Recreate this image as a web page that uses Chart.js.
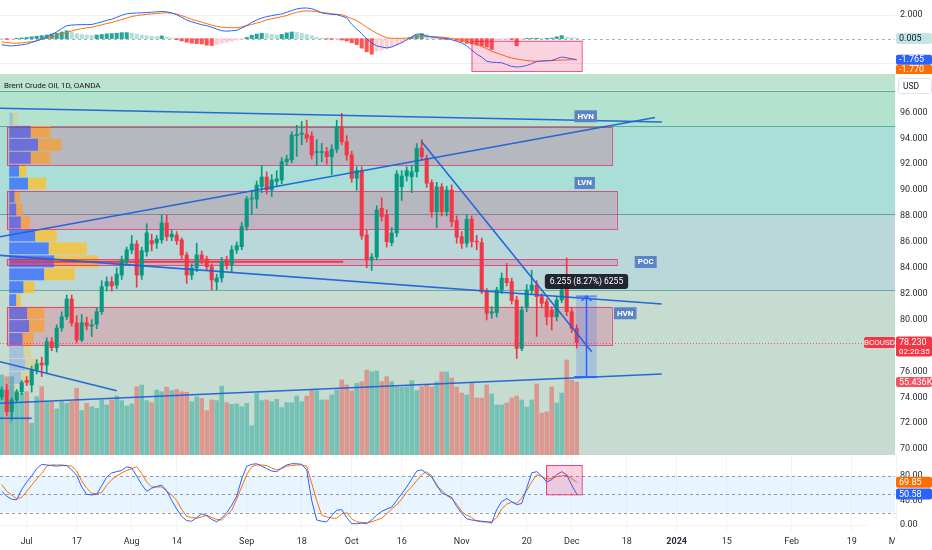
<!DOCTYPE html>
<html>
<head>
<meta charset="utf-8">
<script src="https://cdn.jsdelivr.net/npm/chart.js@4.4.1/dist/chart.umd.min.js"></script>
<style>
  html, body { margin: 0; padding: 0; background: #fff; }
  #wrap { position: relative; width: 932px; height: 550px; overflow: hidden; }
  .pane { position: absolute; left: 0; width: 932px; }
</style>
</head>
<body>
<div id="wrap">
  <div class="pane" style="top:0;height:74px"><canvas id="macd"></canvas></div>
  <div class="pane" style="top:74px;height:381px"><canvas id="price"></canvas></div>
  <div class="pane" style="top:455px;height:95px"><canvas id="stoch"></canvas></div>
</div>
<script>
// daily bars, index 0 = 26 Jun 2023 ... 115 = 4 Dec 2023
const opens = [
  74.02,74.56,72.89,73.79,74.43,75.3,74.95,76.11,76.65,76.49,
  78.29,77.83,79.35,80.22,81.59,79.74,78.42,79.76,79.5,79.64,
  80.61,82.6,82.93,82.67,83.44,84.47,85.38,85.84,83.44,85.24,
  86.1,85.92,86.15,87.46,86.38,86.53,86.15,84.99,83.44,83.99,
  84.99,84.68,84.08,82.91,83.21,84.6,84.22,85.38,85.63,87.17,
  89.31,89.31,90.26,91.01,90.01,90.67,90.78,92.19,92.33,94.2,
  94.3,94.31,94.18,92.9,92.9,92.97,92.58,93.15,94.9,93.74,
  92.71,90.91,91.5,86.53,84.6,84.83,88.59,88.08,85.94,86.69,
  90.26,91.09,91.04,91.42,93.23,92.46,90.57,88.33,90.25,88.33,
  90.01,87.64,86.4,85.89,87.75,86.02,85.94,82.15,80.49,80.53,
  82.29,83.19,82.93,81.51,77.78,81.0,82.29,82.67,81.77,81.38,
  80.74,80.22,81.51,82.54,80.61,79.33
];
const highs = [
  74.8,75.0,74.0,74.6,75.3,75.6,76.4,76.9,77.1,78.6,
  78.6,79.6,80.6,81.9,81.9,80.3,80.4,80.2,80.0,80.9,
  83.0,83.3,83.3,84.0,84.9,85.6,86.5,86.1,85.6,87.4,
  86.6,86.5,88.1,88.1,86.9,86.8,86.3,85.2,84.3,85.9,
  85.3,84.9,84.3,83.5,84.8,84.9,85.7,86.0,87.5,89.5,
  90.0,90.7,91.9,91.4,91.2,91.5,92.5,92.7,94.5,95.0,
  95.3,95.4,94.5,93.9,93.6,93.3,93.5,95.4,95.93,94.2,
  93.0,91.8,91.8,86.9,85.1,88.8,89.4,88.5,87.1,91.5,
  91.5,91.8,91.9,93.6,93.9,92.7,90.8,90.6,90.5,90.3,
  90.4,88.0,86.8,88.1,88.0,86.5,86.3,82.4,81.0,82.5,
  83.6,84.35,83.2,81.8,81.0,82.7,83.8,83.0,82.0,81.6,
  81.0,81.8,83.4,84.76,80.9,79.6
];
const lows = [
  73.8,72.6,72.3,73.6,74.2,74.9,74.4,75.8,75.6,75.9,
  77.6,77.5,79.1,80.0,79.5,78.2,78.3,79.2,78.7,79.3,
  80.4,82.2,82.2,82.4,83.1,84.2,85.1,82.5,83.1,84.9,
  85.3,85.5,85.9,86.1,86.1,85.8,84.7,82.8,83.1,83.7,
  84.3,83.8,82.3,82.3,82.9,83.9,83.7,85.1,85.4,86.9,
  88.1,88.6,89.8,89.7,89.5,90.3,90.5,91.9,92.1,92.6,
  93.5,93.7,92.4,91.9,92.2,92.0,91.2,92.9,93.5,92.3,
  90.6,90.0,86.2,84.0,83.8,84.6,87.6,85.6,85.7,86.4,
  89.2,90.7,89.8,91.0,92.3,90.2,87.9,87.1,88.0,88.0,
  87.2,85.9,85.5,85.6,85.6,85.4,82.0,79.97,80.1,80.2,
  82.0,82.6,81.2,77.0,77.6,80.6,82.0,78.7,80.9,79.6,
  79.2,79.9,81.3,80.3,79.0,77.8
];
const closes = [
  74.56,72.89,73.79,74.43,75.13,75.15,76.11,76.57,76.5,78.29,
  77.83,79.35,80.22,81.59,79.74,78.42,79.76,79.51,79.6,80.61,
  82.54,82.93,82.6,83.52,84.6,85.38,85.84,83.44,85.32,86.69,
  85.84,86.23,87.46,86.4,86.61,86.09,84.99,83.44,83.99,84.99,
  84.6,84.08,83.06,83.21,84.47,84.22,85.38,85.71,87.17,89.31,
  89.39,90.39,91.01,90.01,90.78,90.86,92.19,92.4,94.25,94.3,
  94.4,94.0,92.71,92.95,92.98,92.58,93.15,94.9,93.74,92.71,
  90.91,91.5,86.46,84.6,84.83,88.46,87.95,86.02,86.69,91.24,
  91.09,91.5,91.42,93.23,92.58,90.53,88.33,90.25,88.33,90.01,
  87.56,86.36,85.89,87.75,86.02,85.98,82.15,80.49,80.61,82.29,
  83.19,82.85,81.46,77.78,80.74,82.29,82.67,81.77,81.26,80.22,
  80.22,81.51,82.29,80.61,79.33,78.23
];
// volume in thousands
const volumes = [
  60.8,59.5,59.5,46.9,46.9,48.1,24.1,44.3,51.9,40.5,
  40.5,35.0,40.5,39.3,40.5,50.7,33.7,39.3,36.7,35.5,
  41.8,38.0,41.8,44.8,41.3,37.2,38.8,51.9,53.2,41.3,
  39.8,49.4,48.1,51.5,48.9,49.9,48.1,47.7,40.5,44.3,
  43.1,33.7,41.8,41.3,52.4,39.8,38.5,38.8,36.7,39.3,
  22.3,46.9,41.3,41.8,40.5,42.3,36.0,39.8,39.8,44.8,
  40.5,44.8,49.4,48.9,41.8,41.8,45.6,49.4,57.0,53.2,
  48.6,54.5,55.7,64.6,63.3,63.8,55.7,59.5,55.7,51.5,
  51.5,51.9,56.5,48.9,51.9,53.2,51.7,55.5,63.1,63.1,
  58.5,51.7,47.1,45.6,54.7,43.3,43.3,53.2,46.4,38.0,
  38.0,39.5,43.3,44.8,41.8,36.5,41.8,54.0,31.9,32.7,
  51.7,39.5,47.1,72.2,57.0,55.4
];
const macdLine = [
  -0.50,-0.58,-0.61,-0.58,-0.52,-0.46,-0.32,-0.18,-0.05,0.15,
  0.36,0.55,0.85,1.08,1.13,1.16,1.17,1.17,1.18,1.28,
  1.40,1.52,1.62,1.78,1.95,2.08,2.12,2.14,2.16,2.18,
  2.21,2.24,2.27,2.24,2.15,2.00,1.78,1.55,1.40,1.28,
  1.16,1.08,0.95,0.80,0.66,0.62,0.66,0.70,0.88,1.10,
  1.35,1.55,1.72,1.84,1.92,2.00,2.06,2.20,2.35,2.48,
  2.55,2.56,2.50,2.35,2.15,2.08,2.03,2.00,1.88,1.75,
  1.20,0.80,0.42,-0.05,-0.35,-0.61,-0.70,-0.78,-0.70,-0.52,
  -0.34,-0.10,0.15,0.38,0.35,0.22,0.15,0.08,0.05,0.02,
  -0.10,-0.22,-0.38,-0.60,-0.95,-1.30,-1.55,-1.90,-1.97,-2.00,
  -2.02,-2.18,-2.32,-2.38,-2.34,-2.25,-2.10,-1.92,-1.88,-1.85,
  -1.83,-1.68,-1.54,-1.60,-1.68,-1.765
];
const signalLine = [
  -0.27,-0.33,-0.37,-0.39,-0.36,-0.30,-0.26,-0.20,-0.05,0.05,
  0.10,0.26,0.40,0.53,0.65,0.75,0.83,0.90,0.95,1.05,
  1.15,1.26,1.35,1.48,1.60,1.72,1.85,1.92,1.98,2.03,
  2.06,2.10,2.13,2.16,2.12,2.05,1.92,1.78,1.60,1.50,
  1.38,1.25,1.13,1.03,0.96,0.92,0.91,0.91,0.98,1.08,
  1.18,1.30,1.42,1.57,1.65,1.75,1.84,1.93,2.08,2.20,
  2.28,2.33,2.30,2.25,2.19,2.14,2.09,2.04,2.00,1.85,
  1.67,1.51,1.25,0.95,0.69,0.45,0.25,0.07,0.03,0.02,
  0.02,0.05,0.12,0.20,0.19,0.17,0.16,0.15,0.12,0.08,
  0.02,-0.07,-0.15,-0.25,-0.40,-0.45,-0.65,-0.85,-1.05,-1.21,
  -1.35,-1.50,-1.62,-1.70,-1.78,-1.84,-1.88,-1.89,-1.88,-1.86,
  -1.84,-1.82,-1.80,-1.78,-1.76,-1.77
];
const macdHist = [
  -0.05,-0.06,-0.04,0.03,0.06,0.10,0.15,0.20,0.25,0.30,
  0.38,0.45,0.55,0.65,0.55,0.42,0.35,0.30,0.28,0.30,
  0.35,0.40,0.42,0.45,0.50,0.50,0.45,0.38,0.30,0.24,
  0.20,0.18,0.22,0.12,0.05,-0.08,-0.20,-0.30,-0.38,-0.42,
  -0.45,-0.55,-0.58,-0.50,-0.38,-0.30,-0.22,-0.12,-0.06,0.10,
  0.28,0.38,0.45,0.42,0.35,0.30,0.35,0.48,0.55,0.52,
  0.45,0.35,0.25,0.12,0.05,-0.03,-0.05,-0.04,-0.12,-0.20,
  -0.35,-0.50,-0.80,-1.10,-1.30,-1.05,-0.95,-0.85,-0.70,-0.55,
  -0.35,-0.15,0.10,0.30,0.42,0.35,0.18,0.10,-0.05,-0.08,
  -0.05,-0.15,-0.28,-0.40,-0.45,-0.55,-0.60,-0.70,-0.90,-0.10,
  -0.05,-0.05,-0.08,-0.60,-0.05,0.02,0.03,0.03,0.02,0.03,
  0.04,0.15,0.25,0.12,0.08,0.05
];
const stochK = [
  55,47,42,41,58,70,80,92,99,98,
  97,96,97,97,90,81,62,50,49,50,
  64,78,85,87,89,95,93,80,66,55,
  60,63,65,56,40,26,14,7,6,12,
  18,15,9,5,11,20,32,47,75,96,
  99,100,96,92,88,87,93,98,100,100,
  99,90,40,8,6,5,15,24,25,12,
  2,2,3,2,8,16,22,26,29,40,
  51,62,75,88,90,84,78,66,52,49,
  45,30,19,10,8,7,6,5,3,25,
  38,43,38,33,35,60,85,87,80,70,
  74,82,87,82,65,50.58
];
const stochD = [
  66,55,49,43,45,55,65,75,84,96,
  98,98,98,97,96,88,72,60,52,51,
  53,65,74,80,85,89,92,95,84,70,
  62,62,62,55,49,40,25,14,12,11,
  13,16,12,9,8,16,24,42,62,82,
  95,98,98,97,93,90,92,96,97,98,
  98,96,68,40,16,13,11,11,18,20,
  10,5,4,3.5,5,8,11,18,26,33,
  42,54,62,72,82,87,80,63,57,48,
  43,34,22,16,12,6,5,5,5,12,
  26,34,37,35,44,56,70,82,79,75,
  76,79,80,81,76,69.85
];
const dateTickPos = [5, 15, 26, 35, 49, 60, 70, 80, 92, 105, 114, 125, 135, 145, 158, 170, 179];
const dateTickLabels = ['Jul', '17', 'Aug', '14', 'Sep', '18', 'Oct', '16', 'Nov', '20', 'Dec', '18', '2024', '15', 'Feb', '19', 'Mar'];
const priceTicks = [70, 72, 74, 76, 78, 80, 82, 84, 86, 88, 90, 92, 94, 96];
const macdTicks = [2];
const stochTicks = [0, 40, 80];

// visible range volume profile, rows of 1.0 price
const profileLows = [95, 94, 93, 92, 91, 90, 89, 88, 87, 86, 85, 84, 83, 82, 81, 80, 79, 78, 77, 76, 75, 74, 73, 72];
const profileBuy = [4, 24, 32, 24, 11, 21, 6, 8, 13, 29, 44, 50, 39, 16, 8, 20, 22, 15, 16, 18, 13, 5, 4, 4];
const profileSell = [5, 22, 26, 22, 8, 20, 6, 7, 10, 24, 42, 49, 34, 12, 5, 19, 17, 12, 8, 15, 10, 3, 2, 0];

// drawings, in bar index / price
const zoneEdges = [97.69, 94.93, 88.15, 82.25];
const zoneRects = [
  [1.0, 122.0, 91.94, 94.90],
  [1.0, 123.0, 87.00, 89.93],
  [1.0, 123.0, 84.16, 84.66],
  [1.0, 122.0, 78.04, 81.00]
];
const pocLine = [1.66, 68.3, 84.47];
const trendLines = [
  [-0.34, 96.32, 132.06, 95.26],
  [-0.34, 86.40, 130.66, 95.60],
  [-0.34, 84.96, 132.0, 81.21],
  [84.0, 93.74, 118.0, 77.52],
  [-0.34, 76.75, 23.0, 74.51],
  [-0.34, 73.54, 132.0, 75.80],
  [-0.34, 72.38, 6.0, 72.38]
];
const levelLabels = [['HVN', 116.8, 95.70], ['LVN', 116.6, 90.55], ['POC', 128.8, 84.45], ['HVN', 124.7, 80.49]];
const measureSpan = [114.9, 119.0, 116.9];
const measureRange = [75.56, 81.815];
const measureText = '6.255 (8.27%) 6255';
const macdBox = [93.96, 116.0, -2.71, -0.18];
const stochBox = [108.86, 116.0, 50.0, 97.9];

const LAST_PRICE = 78.23;
const LAST_VOLUME = 55.436;
const TITLE = 'Brent Crude Oil, 1D, OANDA';

const FONT = 'Roboto, "Liberation Sans", sans-serif';
const AXIS_W = 37;
const X_MIN = -0.34, X_MAX = 178.66;
const UP = '#089981', DOWN = '#f23645';
const PROFILE_ANCHOR = 1.5, PROFILE_STEP = 1.0, VA_FROM = 1, VA_TO = 17;
const ZONE_COLORS = ['#bee3d0', '#b3e2ce', '#a9dfd7', '#bad7da', '#c6dcd0'];

const idx = opens.map((_, i) => i);
const pts = (arr) => arr.map((v, i) => ({ x: i, y: v }));
const isUp = idx.map((i) => closes[i] >= opens[i]);

function xHidden() {
  return { type: 'linear', min: X_MIN, max: X_MAX, display: false, offset: false };
}

function rightAxis(min, max, ticks, digits) {
  return {
    type: 'linear', position: 'right', min: min, max: max, beginAtZero: false,
    grid: { display: false, drawTicks: false }, border: { display: false },
    ticks: {
      color: '#2a2e39', padding: 5, font: { family: FONT, size: 9 },
      callback: (v) => Number(v).toFixed(digits)
    },
    afterBuildTicks: (s) => { s.ticks = ticks.map((v) => ({ value: v })); },
    afterFit: (s) => { s.width = AXIS_W; s.paddingTop = 0; s.paddingBottom = 0; }
  };
}

function baseOptions() {
  return {
    responsive: true, maintainAspectRatio: false, animation: false, events: [],
    layout: { padding: 0 },
    plugins: { legend: { display: false }, tooltip: { enabled: false } }
  };
}

function box(ctx, x, y, w, h, r) {
  ctx.beginPath();
  if (ctx.roundRect) ctx.roundRect(x, y, w, h, r); else ctx.rect(x, y, w, h);
}

function tag(ctx, yc, text, bg, fg, h) {
  h = h || 11;
  ctx.fillStyle = bg;
  box(ctx, 896, yc - h / 2, 36, h, 2);
  ctx.fill();
  ctx.fillStyle = fg;
  ctx.font = `9px ${FONT}`;
  ctx.textAlign = 'left';
  ctx.textBaseline = 'middle';
  ctx.fillText(text, 899, yc + 0.5);
}

function clipArea(ctx, a) {
  ctx.beginPath();
  ctx.rect(a.left, a.top, a.right - a.left, a.bottom - a.top);
  ctx.clip();
}

function hLine(ctx, x0, x1, y) {
  ctx.beginPath();
  ctx.moveTo(x0, y);
  ctx.lineTo(x1, y);
  ctx.stroke();
}

// ---------- MACD pane ----------
const macdPane = {
  id: 'macdPane',
  beforeDatasetsDraw(chart) {
    const { ctx, chartArea: a, scales: { y } } = chart;
    ctx.save();
    ctx.strokeStyle = '#eef0f4';
    ctx.lineWidth = 1;
    [2, -2].forEach((v) => hLine(ctx, a.left, a.right, Math.round(y.getPixelForValue(v)) + 0.5));
    ctx.strokeStyle = 'rgba(120,123,134,0.6)';
    ctx.setLineDash([3, 3]);
    hLine(ctx, a.left, a.right, Math.round(y.getPixelForValue(0)) + 0.5);
    ctx.restore();
  },
  afterDatasetsDraw(chart) {
    const { ctx, chartArea: a, scales: { x, y } } = chart;
    ctx.save();
    clipArea(ctx, a);
    const [i0, i1, lo, hi] = macdBox;
    const bx = x.getPixelForValue(i0), bw = x.getPixelForValue(i1) - bx;
    const by = y.getPixelForValue(hi), bh = y.getPixelForValue(lo) - by;
    ctx.fillStyle = 'rgba(233,30,99,0.2)';
    ctx.fillRect(bx, by, bw, bh);
    ctx.strokeStyle = 'rgba(233,30,99,0.75)';
    ctx.strokeRect(bx + 0.5, by + 0.5, bw, bh);
    ctx.restore();
  },
  afterDraw(chart) {
    const { ctx, scales: { y } } = chart;
    ctx.save();
    tag(ctx, y.getPixelForValue(0.005), '0.005', 'rgba(38,166,154,0.28)', '#131722');
    const yb = y.getPixelForValue(macdLine[macdLine.length - 1]);
    tag(ctx, yb, macdLine[macdLine.length - 1].toFixed(3), '#2962ff', '#fff', 10);
    tag(ctx, yb + 10, signalLine[signalLine.length - 1].toFixed(3), '#ff6d00', '#fff', 10);
    ctx.restore();
  }
};

const histColors = macdHist.map((v, i) => {
  const prev = i > 0 ? macdHist[i - 1] : v;
  if (v >= 0) return v >= prev ? '#26a69a' : '#b2dfdb';
  return v < prev ? '#ff5252' : '#ffcdd2';
});

new Chart(document.getElementById('macd'), {
  type: 'bar',
  data: {
    datasets: [
      { type: 'line', data: pts(macdLine), borderColor: '#2962ff', borderWidth: 1, pointRadius: 0, tension: 0 },
      { type: 'line', data: pts(signalLine), borderColor: '#ff6d00', borderWidth: 1, pointRadius: 0, tension: 0 },
      { data: pts(macdHist), backgroundColor: histColors, barThickness: 3.4, grouped: false }
    ]
  },
  options: Object.assign(baseOptions(), {
    scales: { x: xHidden(), y: rightAxis(-2.962, 3.23, macdTicks, 3) }
  }),
  plugins: [macdPane]
});

// ---------- price pane ----------
const pricePane = {
  id: 'pricePane',
  beforeDatasetsDraw(chart) {
    const { ctx, chartArea: a, scales: { x, y, xp } } = chart;
    ctx.save();
    clipArea(ctx, a);
    const edges = [y.max].concat(zoneEdges, [y.min]);
    for (let k = 0; k < edges.length - 1; k++) {
      const t = y.getPixelForValue(edges[k]), b = y.getPixelForValue(edges[k + 1]);
      ctx.fillStyle = ZONE_COLORS[k];
      ctx.fillRect(a.left, t, a.right - a.left, b - t);
    }
    ctx.strokeStyle = 'rgba(0,120,90,0.5)';
    ctx.lineWidth = 1;
    zoneEdges.forEach((p) => hLine(ctx, a.left, a.right, Math.round(y.getPixelForValue(p)) + 0.5));

    // volume profile
    const x0 = x.getPixelForValue(PROFILE_ANCHOR);
    const unit = xp.getPixelForValue(1) - xp.getPixelForValue(0);
    profileLows.forEach((lo, k) => {
      const top = y.getPixelForValue(lo + PROFILE_STEP) + 0.5;
      const bot = y.getPixelForValue(lo) - 0.5;
      const inVA = k >= VA_FROM && k <= VA_TO;
      const wb = profileBuy[k] * unit, ws = profileSell[k] * unit;
      ctx.fillStyle = inVA ? 'rgba(41,98,255,0.72)' : 'rgba(41,98,255,0.22)';
      ctx.fillRect(x0, top, wb, bot - top);
      ctx.fillStyle = inVA ? 'rgba(251,192,45,0.78)' : 'rgba(251,192,45,0.3)';
      ctx.fillRect(x0 + wb, top, ws, bot - top);
    });

    // zone rectangles
    zoneRects.forEach(([i0, i1, lo, hi]) => {
      const bx = x.getPixelForValue(i0), bw = x.getPixelForValue(i1) - bx;
      const by = y.getPixelForValue(hi), bh = y.getPixelForValue(lo) - by;
      ctx.fillStyle = 'rgba(233,30,99,0.2)';
      ctx.fillRect(bx, by, bw, bh);
      ctx.strokeStyle = 'rgba(233,30,99,0.7)';
      ctx.lineWidth = 1;
      ctx.strokeRect(Math.round(bx) + 0.5, Math.round(by) + 0.5, Math.round(bw), Math.round(bh));
    });

    // POC line of the profile
    ctx.strokeStyle = '#f23645';
    ctx.lineWidth = 2;
    hLine(ctx, x.getPixelForValue(pocLine[0]), x.getPixelForValue(pocLine[1]), y.getPixelForValue(pocLine[2]));
    ctx.restore();
  },
  afterDatasetsDraw(chart) {
    const { ctx, chartArea: a, scales: { x, y } } = chart;
    ctx.save();
    clipArea(ctx, a);

    // last price line
    ctx.strokeStyle = 'rgba(242,54,69,0.75)';
    ctx.lineWidth = 1;
    ctx.setLineDash([1, 2]);
    hLine(ctx, a.left, a.right, Math.round(y.getPixelForValue(LAST_PRICE)) + 0.5);
    ctx.setLineDash([]);

    // price range measurement
    const xl = x.getPixelForValue(measureSpan[0]), xr = x.getPixelForValue(measureSpan[1]);
    const xm = Math.round(x.getPixelForValue(measureSpan[2])) + 0.5;
    const yt = y.getPixelForValue(measureRange[1]), yb = y.getPixelForValue(measureRange[0]);
    ctx.fillStyle = 'rgba(41,98,255,0.2)';
    ctx.fillRect(xl, yt, xr - xl, yb - yt);
    ctx.strokeStyle = '#2962ff';
    ctx.lineWidth = 1.5;
    ctx.beginPath();
    ctx.moveTo(xm, yb); ctx.lineTo(xm, yt);
    ctx.moveTo(xm - 5, yt + 5); ctx.lineTo(xm, yt); ctx.lineTo(xm + 5, yt + 5);
    ctx.stroke();
    ctx.lineWidth = 2;
    hLine(ctx, xl - 2, xr, yb);
    ctx.lineWidth = 1;
    hLine(ctx, xl, xr, yt);

    ctx.font = `8.5px ${FONT}`;
    const tw = ctx.measureText(measureText).width + 10;
    ctx.fillStyle = 'rgba(19,23,34,0.92)';
    box(ctx, xm - tw / 2, yt - 22, tw, 15, 3);
    ctx.fill();
    ctx.fillStyle = '#fff';
    ctx.textAlign = 'center';
    ctx.textBaseline = 'middle';
    ctx.fillText(measureText, xm, yt - 14.5);

    // level labels
    ctx.font = `bold 8px ${FONT}`;
    levelLabels.forEach(([t, i, p]) => {
      const cx = x.getPixelForValue(i), cy = y.getPixelForValue(p);
      const w = ctx.measureText(t).width + 6, h = 12;
      ctx.fillStyle = '#5b84c4';
      ctx.fillRect(cx - w / 2, cy - h / 2, w, h);
      ctx.fillStyle = '#fff';
      ctx.fillText(t, cx, cy + 0.5);
    });

    // symbol title
    ctx.font = `8px ${FONT}`;
    ctx.fillStyle = '#131722';
    ctx.textAlign = 'left';
    ctx.fillText(TITLE, a.left + 4, a.top + 12);
    ctx.restore();
  },
  afterDraw(chart) {
    const { ctx, scales: { y, yv } } = chart;
    ctx.save();
    // currency box
    ctx.fillStyle = '#fff';
    ctx.strokeStyle = '#e0e3eb';
    box(ctx, 898.5, 4.5, 33, 15, 2);
    ctx.fill(); ctx.stroke();
    ctx.fillStyle = '#131722';
    ctx.font = `8.5px ${FONT}`;
    ctx.textAlign = 'left';
    ctx.textBaseline = 'middle';
    ctx.fillText('USD', 903, 12.5);

    // symbol + last price
    const yc = y.getPixelForValue(LAST_PRICE);
    ctx.fillStyle = '#f23645';
    box(ctx, 864, yc - 5.5, 31, 11, 2);
    ctx.fill();
    ctx.fillStyle = '#fff';
    ctx.font = `8px ${FONT}`;
    ctx.textAlign = 'center';
    ctx.fillText('BCOUSD', 879.5, yc + 0.5);
    ctx.fillStyle = '#f23645';
    box(ctx, 896, yc - 6, 36, 20, 2);
    ctx.fill();
    ctx.fillStyle = '#fff';
    ctx.font = `9px ${FONT}`;
    ctx.textAlign = 'left';
    ctx.fillText(LAST_PRICE.toFixed(3), 899, yc + 0.5);
    ctx.font = `8px ${FONT}`;
    ctx.fillText('02:20:35', 899, yc + 9);

    // last volume
    tag(ctx, yv.getPixelForValue(LAST_VOLUME), LAST_VOLUME.toFixed(3) + 'K', '#f7525f', '#fff', 10);
    ctx.restore();
  }
};

const lineSets = trendLines.map(([xa, pa, xb, pb]) => ({
  type: 'line', data: [{ x: xa, y: pa }, { x: xb, y: pb }],
  borderColor: 'rgba(28,98,214,0.95)', borderWidth: 1.6, pointRadius: 0, tension: 0,
  xAxisID: 'x', yAxisID: 'y'
}));

new Chart(document.getElementById('price'), {
  type: 'bar',
  data: {
    datasets: lineSets.concat([
      {
        data: idx.map((i) => ({ x: i, y: [opens[i], closes[i]] })),
        backgroundColor: idx.map((i) => (isUp[i] ? UP : DOWN)),
        barThickness: 3.4, minBarLength: 1, grouped: false, xAxisID: 'x', yAxisID: 'y'
      },
      {
        data: idx.map((i) => ({ x: i, y: [lows[i], highs[i]] })),
        backgroundColor: idx.map((i) => (isUp[i] ? UP : DOWN)),
        barThickness: 1, grouped: false, xAxisID: 'x', yAxisID: 'y'
      },
      {
        data: pts(volumes),
        backgroundColor: idx.map((i) => (isUp[i] ? 'rgba(38,166,154,0.5)' : 'rgba(239,83,80,0.5)')),
        barThickness: 4, grouped: false, xAxisID: 'x', yAxisID: 'yv'
      }
    ])
  },
  options: Object.assign(baseOptions(), {
    scales: {
      x: xHidden(),
      xp: { type: 'linear', axis: 'x', display: false, min: 0, max: 895 },
      y: rightAxis(69.544, 98.965, priceTicks, 3),
      yv: { type: 'linear', axis: 'y', display: false, min: 0, max: 289.56 }
    }
  }),
  plugins: [pricePane]
});

// ---------- Stoch RSI pane ----------
const stochPane = {
  id: 'stochPane',
  beforeDatasetsDraw(chart) {
    const { ctx, chartArea: a, scales: { y } } = chart;
    ctx.save();
    const t = y.getPixelForValue(80), b = y.getPixelForValue(20);
    ctx.fillStyle = 'rgba(33,150,243,0.1)';
    ctx.fillRect(a.left, t, a.right - a.left, b - t);
    ctx.strokeStyle = '#f0f3fa';
    ctx.lineWidth = 1;
    hLine(ctx, a.left, a.right - 28, Math.round(y.getPixelForValue(0)) + 0.5);
    ctx.strokeStyle = 'rgba(120,123,134,0.75)';
    ctx.setLineDash([3, 3]);
    [80, 50, 20].forEach((v) => hLine(ctx, a.left, a.right, Math.round(y.getPixelForValue(v)) + 0.5));
    ctx.restore();
  },
  afterDatasetsDraw(chart) {
    const { ctx, chartArea: a, scales: { x, y } } = chart;
    ctx.save();
    clipArea(ctx, a);
    const [i0, i1, lo, hi] = stochBox;
    const bx = x.getPixelForValue(i0), bw = x.getPixelForValue(i1) - bx;
    const by = y.getPixelForValue(hi), bh = y.getPixelForValue(lo) - by;
    ctx.fillStyle = 'rgba(233,30,99,0.2)';
    ctx.fillRect(bx, by, bw, bh);
    ctx.strokeStyle = 'rgba(233,30,99,0.8)';
    ctx.strokeRect(bx + 0.5, by + 0.5, bw, bh);
    ctx.restore();
  },
  afterDraw(chart) {
    const { ctx, chartArea: a, scales: { y } } = chart;
    ctx.save();
    ctx.fillStyle = '#fff';
    ctx.fillRect(a.right, a.bottom + 1, AXIS_W, 20);
    tag(ctx, y.getPixelForValue(stochD[stochD.length - 1]), stochD[stochD.length - 1].toFixed(2), '#ff6d00', '#fff');
    tag(ctx, y.getPixelForValue(stochK[stochK.length - 1]), stochK[stochK.length - 1].toFixed(2), '#2962ff', '#fff');
    ctx.restore();
  }
};

new Chart(document.getElementById('stoch'), {
  type: 'line',
  data: {
    datasets: [
      { data: pts(stochK), borderColor: '#2962ff', borderWidth: 1, pointRadius: 0, tension: 0 },
      { data: pts(stochD), borderColor: '#ff6d00', borderWidth: 1, pointRadius: 0, tension: 0 }
    ]
  },
  options: Object.assign(baseOptions(), {
    scales: {
      x: {
        type: 'linear', position: 'bottom', min: X_MIN, max: X_MAX, offset: false,
        grid: { display: true, drawTicks: false, color: 'rgba(42,46,57,0.05)' },
        border: { display: false },
        ticks: {
          autoSkip: false, maxRotation: 0, minRotation: 0, padding: 4, color: '#2a2e39',
          font: (c) => ({ family: FONT, size: 9, weight: dateTickLabels[c.index] === '2024' ? 'bold' : 'normal' }),
          callback: (v, i) => dateTickLabels[i]
        },
        afterBuildTicks: (s) => { s.ticks = dateTickPos.map((v) => ({ value: v })); },
        afterFit: (s) => { s.height = 18; s.paddingLeft = 0; s.paddingRight = 0; }
      },
      y: rightAxis(-11.61, 114.27, stochTicks, 2)
    }
  }),
  plugins: [stochPane]
});
</script>
</body>
</html>
